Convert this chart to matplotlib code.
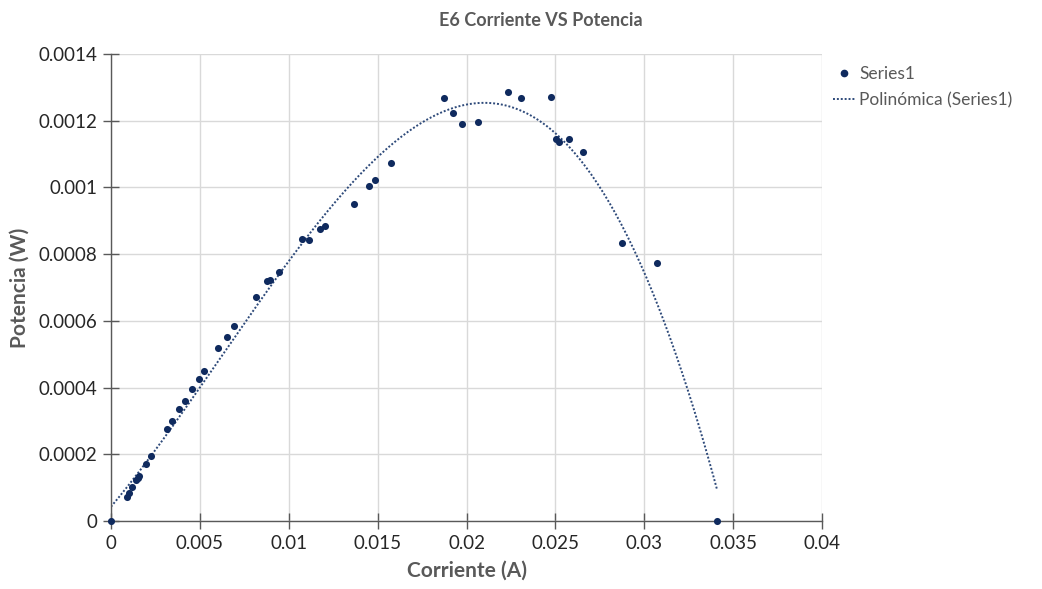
import numpy as np
import matplotlib
matplotlib.use("Agg")
import matplotlib.pyplot as plt
from matplotlib.lines import Line2D

# Measured current (A) and power (W)
corriente = [0.0, 0.00088, 0.00101, 0.00120, 0.00141, 0.00150, 0.00159, 0.00197,
             0.00225, 0.00317, 0.00343, 0.00384, 0.00415, 0.00456, 0.00493, 0.00523,
             0.00602, 0.00654, 0.00693, 0.00816, 0.00876, 0.00894, 0.00944, 0.01076,
             0.01115, 0.01176, 0.01204, 0.01365, 0.01453, 0.01483, 0.01573, 0.01875,
             0.01922, 0.01974, 0.02064, 0.02235, 0.02306, 0.02476, 0.02505, 0.02521,
             0.02576, 0.02655, 0.02872, 0.03073, 0.03410]
potencia = [0.0, 0.000073, 0.000083, 0.000103, 0.000123, 0.000128, 0.000135, 0.000171,
            0.000195, 0.000275, 0.000301, 0.000336, 0.000361, 0.000396, 0.000425, 0.000450,
            0.000518, 0.000553, 0.000584, 0.000672, 0.000720, 0.000722, 0.000748, 0.000845,
            0.000843, 0.000876, 0.000885, 0.000951, 0.001004, 0.001022, 0.001073, 0.001269,
            0.001224, 0.001191, 0.001196, 0.001287, 0.001267, 0.001272, 0.001145, 0.001137,
            0.001145, 0.001106, 0.000834, 0.000773, 0.0]

x_ticks = [0, 0.005, 0.01, 0.015, 0.02, 0.025, 0.03, 0.035, 0.04]
x_labels = ["0", "0.005", "0.01", "0.015", "0.02", "0.025", "0.03", "0.035", "0.04"]
y_ticks = [0, 0.0002, 0.0004, 0.0006, 0.0008, 0.001, 0.0012, 0.0014]
y_labels = ["0", "0.0002", "0.0004", "0.0006", "0.0008", "0.001", "0.0012", "0.0014"]

plt.rcParams['font.family'] = ['Lato', 'DejaVu Sans']

navy = '#0F2A5E'
grey_text = '#595959'
tick_text = '#262626'

fig = plt.figure(figsize=(10.42, 5.89), dpi=100)
ax = fig.add_axes([0.1065, 0.1154, 0.6824, 0.7929])

x = np.array(corriente)
y = np.array(potencia)

# cubic trend line through the measurements
coef = np.polyfit(x, y, 3)
xs = np.linspace(x.min(), x.max(), 300)
ax.plot(xs, np.polyval(coef, xs), linestyle=(0, (1, 1)), color='#2E4A7A', lw=1.4, zorder=2)

ax.scatter(x, y, s=26, color=navy, zorder=3, clip_on=False, linewidths=0)

ax.set_xlim(0, 0.04)
ax.set_ylim(0, 0.0014)
ax.set_xticks(x_ticks)
ax.set_xticklabels(x_labels)
ax.set_yticks(y_ticks)
ax.set_yticklabels(y_labels)

ax.grid(True, color='#D9D9D9', lw=1.0)
ax.set_axisbelow(True)
for s in ['top', 'right']:
    ax.spines[s].set_visible(False)
for s in ['left', 'bottom']:
    ax.spines[s].set_color('#595959')
    ax.spines[s].set_linewidth(1.0)

ax.tick_params(axis='both', direction='inout', length=12, width=1.0, color='#595959',
               labelsize=13.5, labelcolor=tick_text, pad=4)

ax.set_xlabel("Corriente (A)", fontsize=15, fontweight='bold', color=grey_text, labelpad=6)
ax.set_ylabel("Potencia (W)", fontsize=15, fontweight='bold', color=grey_text, labelpad=6)

fig.text(0.519, 0.965, "E6 Corriente VS Potencia", ha='center', va='center',
         fontsize=13, fontweight='bold', color=grey_text)

handles = [
    Line2D([], [], marker='o', linestyle='none', markersize=4.5, color=navy),
    Line2D([], [], linestyle=(0, (1, 1)), color='#2E4A7A', lw=1.4),
]
fig.legend(handles, ["Series1", "Polinómica (Series1)"], loc='upper left',
           bbox_to_anchor=(0.7843, 0.915), frameon=False, fontsize=12.5,
           labelcolor=grey_text, handlelength=1.3, handletextpad=0.2, labelspacing=0.6)

fig.savefig("out.png", dpi=100)
